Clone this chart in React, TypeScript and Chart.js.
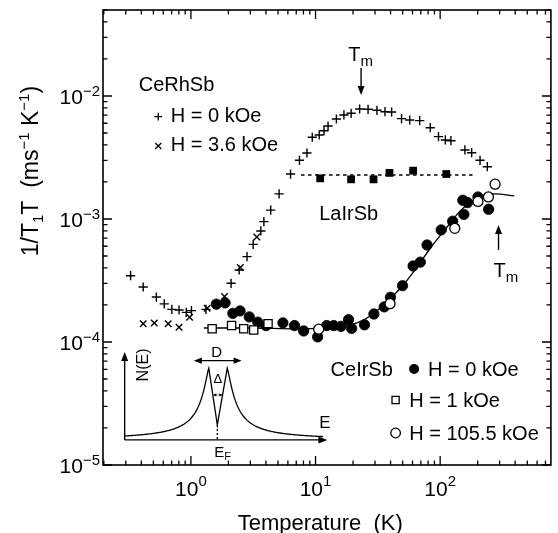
import React, { useEffect, useRef } from 'react';
import { Chart, registerables } from 'chart.js';

Chart.register(...registerables);

const FONT = '"Liberation Sans", Arial, Helvetica, sans-serif';

// ---- axes ----
const X_RANGE = [0.197, 774];
const Y_RANGE = [1e-5, 0.05];
const X_LABEL_EXPONENTS = [0, 1, 2];
const Y_LABEL_EXPONENTS = [-5, -4, -3, -2];
const X_TITLE = 'Temperature  (K)';

// ---- CeRhSb, H = 0 kOe (+) ----
const rhSb0T = [0.328, 0.414, 0.528, 0.611, 0.703, 0.803, 0.918, 1.01, 1.32, 2.10, 2.44, 2.82, 3.16, 3.64, 3.85, 4.37, 5.1, 6.30, 7.43, 8.53, 9.42, 10.7, 11.7, 12.6, 14.7, 16.9, 19.3, 22.6, 26.4, 31.1, 36.1, 40.8, 49.0, 57.0, 68.5, 83.3, 97.0, 110, 122, 158, 179, 209, 239];
const rhSb0V = [3.46e-4, 2.80e-4, 2.32e-4, 2.04e-4, 1.84e-4, 1.82e-4, 1.74e-4, 1.80e-4, 1.84e-4, 3.00e-4, 3.85e-4, 4.94e-4, 6.22e-4, 7.99e-4, 9.51e-4, 1.18e-3, 1.6e-3, 2.32e-3, 3.0e-3, 3.44e-3, 4.62e-3, 4.82e-3, 5.22e-3, 5.70e-3, 6.50e-3, 7.01e-3, 7.23e-3, 7.84e-3, 7.79e-3, 7.65e-3, 7.45e-3, 7.41e-3, 6.54e-3, 6.38e-3, 6.30e-3, 5.52e-3, 4.67e-3, 4.39e-3, 4.33e-3, 3.64e-3, 3.46e-3, 3.0e-3, 2.66e-3];

// ---- CeRhSb, H = 3.6 kOe (x) ----
const rhSb36T = [0.414, 0.508, 0.657, 0.803, 0.976, 1.35, 1.86, 2.49, 3.38];
const rhSb36V = [1.41e-4, 1.43e-4, 1.41e-4, 1.32e-4, 1.59e-4, 1.88e-4, 2.34e-4, 4.03e-4, 7.14e-4];

// ---- LaIrSb (filled squares) + dotted level ----
const laIrSbT = [10.9, 19.3, 29.2, 39.2, 60.7, 112];
const laIrSbV = [2.14e-3, 2.10e-3, 2.10e-3, 2.37e-3, 2.47e-3, 2.32e-3];
const laIrSbLineT = [7.65, 182];
const laIrSbLineV = [2.28e-3, 2.28e-3];

// ---- CeIrSb, H = 0 kOe (filled circles) ----
const irSb0T = [1.60, 1.88, 2.17, 2.48, 2.94, 3.44, 4.01, 5.47, 6.78, 8.03, 10.4, 12.3, 14.0, 16.0, 18.4, 19.5, 24.7, 29.4, 35.6, 39.9, 49.9, 60.7, 69.3, 78.5, 102, 126, 155, 152, 166, 201, 245];
const irSb0V = [2.03e-4, 2.08e-4, 1.71e-4, 1.79e-4, 1.60e-4, 1.45e-4, 1.36e-4, 1.43e-4, 1.36e-4, 1.23e-4, 1.10e-4, 1.36e-4, 1.36e-4, 1.34e-4, 1.52e-4, 1.29e-4, 1.38e-4, 1.69e-4, 1.93e-4, 2.31e-4, 2.87e-4, 4.15e-4, 4.46e-4, 6.15e-4, 8.15e-4, 9.59e-4, 1.09e-3, 1.42e-3, 1.36e-3, 1.51e-3, 1.20e-3];

// ---- CeIrSb, H = 1 kOe (open squares) ----
const irSb1T = [1.48, 2.12, 2.65, 3.19, 4.16];
const irSb1V = [1.28e-4, 1.36e-4, 1.28e-4, 1.25e-4, 1.41e-4];

// ---- CeIrSb, H = 105.5 kOe (open circles) ----
const irSb105T = [10.6, 39.6, 131, 201, 244, 276];
const irSb105V = [1.27e-4, 2.05e-4, 8.40e-4, 1.39e-3, 1.51e-3, 1.92e-3];

// ---- CeIrSb guide curve ----
const fitT = [1.27, 2.89, 7.19, 14.9, 21.5, 28.3, 37.3, 49.0, 64.5, 84.8, 112, 147, 193, 278, 394];
const fitV = [1.30e-4, 1.30e-4, 1.28e-4, 1.32e-4, 1.43e-4, 1.66e-4, 2.12e-4, 2.80e-4, 4.0e-4, 5.92e-4, 8.45e-4, 1.18e-3, 1.45e-3, 1.60e-3, 1.54e-3];

// ---- annotations anchored in data coordinates ----
type Part = [string, number, number];
const TEXT_LABELS: { parts: Part[]; T: number; v: number }[] = [
  { parts: [['CeRhSb', 20, 0]], T: 0.381, v: 1.10e-2 },
  { parts: [['H = 0 kOe', 20, 0]], T: 0.690, v: 6.18e-3 },
  { parts: [['H = 3.6 kOe', 20, 0]], T: 0.690, v: 3.59e-3 },
  { parts: [['T', 20, 0], ['m', 15, 5]], T: 18.3, v: 1.93e-2 },
  { parts: [['LaIrSb', 20, 0]], T: 10.7, v: 9.8e-4 },
  { parts: [['T', 20, 0], ['m', 15, 5]], T: 268, v: 3.40e-4 },
  { parts: [['CeIrSb', 20, 0]], T: 13.2, v: 5.29e-5 },
  { parts: [['H = 0 kOe', 20, 0]], T: 79.9, v: 5.29e-5 },
  { parts: [['H = 1 kOe', 20, 0]], T: 56.5, v: 2.94e-5 },
  { parts: [['H = 105.5 kOe', 20, 0]], T: 56.5, v: 1.60e-5 },
];
const LEGEND_MARKERS = [
  { style: 'plus', T: 0.547, v: 6.79e-3 },
  { style: 'cross', T: 0.547, v: 3.92e-3 },
  { style: 'disc', T: 61.8, v: 6.03e-5 },
  { style: 'square', T: 43.9, v: 3.38e-5 },
  { style: 'ring', T: 43.9, v: 1.82e-5 },
];
const ARROWS = [
  { T: 23.2, vFrom: 1.69e-2, vTo: 1.02e-2 },
  { T: 294, vFrom: 5.60e-4, vTo: 8.93e-4 },
];
// inset box (schematic DOS) anchored in data coordinates
const INSET = { T0: 0.294, T1: 12.45, v0: 1.6e-5, v1: 8.3e-5 };
const INSET_SHAPE = { left: 0.415, right: 0.506, dip: 0.457, peakH: 0.815, dipH: 0.17, width: 0.0463, power: 1.3 };

const pts = (xs: number[], ys: number[]) => xs.map((x, i) => ({ x, y: ys[i] }));

function richWidth(ctx: CanvasRenderingContext2D, parts: Part[]) {
  let w = 0;
  for (const [t, s] of parts) {
    ctx.font = `${s}px ${FONT}`;
    w += ctx.measureText(t).width;
  }
  return w;
}
function drawRich(ctx: CanvasRenderingContext2D, parts: Part[], x: number, y: number, align: 'left' | 'center' | 'right') {
  const w = richWidth(ctx, parts);
  let cx = align === 'left' ? x : align === 'center' ? x - w / 2 : x - w;
  ctx.textAlign = 'left';
  ctx.textBaseline = 'alphabetic';
  for (const [t, s, dy] of parts) {
    ctx.font = `${s}px ${FONT}`;
    ctx.fillText(t, cx, y + dy);
    cx += ctx.measureText(t).width;
  }
}
function arrowHead(ctx: CanvasRenderingContext2D, x1: number, y1: number, x2: number, y2: number, len: number, half: number) {
  const a = Math.atan2(y2 - y1, x2 - x1);
  const bx = x2 - len * Math.cos(a), by = y2 - len * Math.sin(a);
  ctx.beginPath();
  ctx.moveTo(x2, y2);
  ctx.lineTo(bx + half * Math.sin(a), by - half * Math.cos(a));
  ctx.lineTo(bx - half * Math.sin(a), by + half * Math.cos(a));
  ctx.closePath();
  ctx.fill();
}
function arrow(ctx: CanvasRenderingContext2D, x1: number, y1: number, x2: number, y2: number, len: number, half: number) {
  const a = Math.atan2(y2 - y1, x2 - x1);
  ctx.beginPath();
  ctx.moveTo(x1, y1);
  ctx.lineTo(x2 - len * 0.8 * Math.cos(a), y2 - len * 0.8 * Math.sin(a));
  ctx.stroke();
  arrowHead(ctx, x1, y1, x2, y2, len, half);
}

const decorPlugin = {
  id: 'decor',
  afterDraw(chart: any) {
    const ctx: CanvasRenderingContext2D = chart.ctx;
    const xs = chart.scales.x, ys = chart.scales.y;
    const { left, right, top, bottom } = chart.chartArea;
    const X = (t: number) => xs.getPixelForValue(t);
    const Y = (v: number) => ys.getPixelForValue(v);
    ctx.save();
    ctx.fillStyle = '#000';
    ctx.strokeStyle = '#000';

    // frame
    ctx.lineWidth = 1.6;
    ctx.strokeRect(left, top, right - left, bottom - top);

    // inward ticks on all four sides
    ctx.lineWidth = 1.3;
    const ticks = (min: number, max: number) => {
      const out: { v: number; major: boolean }[] = [];
      for (let e = Math.floor(Math.log10(min)); e <= Math.ceil(Math.log10(max)); e++) {
        for (let m = 1; m <= 9; m++) {
          const v = m * Math.pow(10, e);
          if (v >= min * 0.999 && v <= max * 1.001) out.push({ v, major: m === 1 });
        }
      }
      return out;
    };
    ctx.beginPath();
    for (const t of ticks(X_RANGE[0], X_RANGE[1])) {
      const px = X(t.v);
      const L = t.major ? 9 : 4.5;
      ctx.moveTo(px, bottom); ctx.lineTo(px, bottom - L);
      ctx.moveTo(px, top); ctx.lineTo(px, top + L);
    }
    for (const t of ticks(Y_RANGE[0], Y_RANGE[1])) {
      const py = Y(t.v);
      const L = t.major ? 9 : 4.5;
      ctx.moveTo(left, py); ctx.lineTo(left + L, py);
      ctx.moveTo(right, py); ctx.lineTo(right - L, py);
    }
    ctx.stroke();

    // tick labels
    for (const e of X_LABEL_EXPONENTS) {
      drawRich(ctx, [['10', 21, 0], [String(e), 15, -10]], X(Math.pow(10, e)), bottom + 31, 'center');
    }
    for (const e of Y_LABEL_EXPONENTS) {
      drawRich(ctx, [['10', 21, 0], [(e < 0 ? '\u2212' : '') + Math.abs(e), 15, -8]], left - 3, Y(Math.pow(10, e)) + 8, 'right');
    }

    // axis titles
    drawRich(ctx, [[X_TITLE, 22, 0]], left + 0.485 * (right - left), bottom + 65, 'center');
    ctx.save();
    ctx.translate(38, top + 0.354 * (bottom - top));
    ctx.rotate(-Math.PI / 2);
    drawRich(ctx, [['1/T', 23, 0], ['1', 15, 5], ['T  (ms', 23, 0], ['\u22121', 15, -9], [' K', 23, 0], ['\u22121', 15, -9], [')', 23, 0]], 0, 0, 'center');
    ctx.restore();

    // text annotations
    for (const l of TEXT_LABELS) drawRich(ctx, l.parts, X(l.T), Y(l.v), 'left');

    // legend markers
    for (const m of LEGEND_MARKERS) {
      const px = X(m.T), py = Y(m.v);
      ctx.lineWidth = 1.3;
      ctx.beginPath();
      if (m.style === 'plus') {
        ctx.moveTo(px - 3.8, py); ctx.lineTo(px + 3.8, py);
        ctx.moveTo(px, py - 3.8); ctx.lineTo(px, py + 3.8);
        ctx.stroke();
      } else if (m.style === 'cross') {
        ctx.moveTo(px - 3, py - 3); ctx.lineTo(px + 3, py + 3);
        ctx.moveTo(px + 3, py - 3); ctx.lineTo(px - 3, py + 3);
        ctx.stroke();
      } else if (m.style === 'disc') {
        ctx.arc(px, py, 5, 0, Math.PI * 2);
        ctx.fill();
      } else if (m.style === 'square') {
        ctx.rect(px - 3.6, py - 3.6, 7.2, 7.2);
        ctx.stroke();
      } else {
        ctx.arc(px, py, 4.8, 0, Math.PI * 2);
        ctx.stroke();
      }
    }

    // T_m arrows
    ctx.lineWidth = 1.4;
    for (const a of ARROWS) arrow(ctx, X(a.T), Y(a.vFrom), X(a.T), Y(a.vTo), 9, 3.5);

    // inset: schematic N(E)
    const X0 = X(INSET.T0), X1 = X(INSET.T1), Y0 = Y(INSET.v0), Y1 = Y(INSET.v1);
    const W = X1 - X0, H = Y0 - Y1;
    const P = (u: number, h: number): [number, number] => [X0 + u * W, Y0 - h * H];
    const s = INSET_SHAPE;
    const prof = (d: number) => s.peakH / (1 + Math.pow(Math.abs(d) / s.width, s.power));
    ctx.lineWidth = 1.4;
    // axes
    arrow(ctx, ...P(0, 0), ...P(0, 1), 9, 3.5);
    arrow(ctx, ...P(0, 0), ...P(1, 0), 9, 3.5);
    // curve
    ctx.lineWidth = 1.3;
    ctx.beginPath();
    ctx.moveTo(...P(0, prof(s.left)));
    for (let u = 0; u <= s.left; u += 0.004) ctx.lineTo(...P(u, prof(s.left - u)));
    ctx.lineTo(...P(s.left, s.peakH));
    ctx.lineTo(...P(s.dip, s.dipH));
    ctx.lineTo(...P(s.right, s.peakH));
    for (let u = s.right; u <= 0.98; u += 0.004) ctx.lineTo(...P(u, prof(u - s.right)));
    ctx.stroke();
    // dotted drop to E_F
    ctx.setLineDash([2, 2]);
    ctx.beginPath();
    ctx.moveTo(...P(s.dip, s.dipH));
    ctx.lineTo(...P(s.dip, 0));
    ctx.stroke();
    // gap arrow (dotted)
    ctx.setLineDash([1.2, 1.2]);
    ctx.lineWidth = 1;
    ctx.beginPath();
    ctx.moveTo(...P(0.44, 0.511));
    ctx.lineTo(...P(0.478, 0.511));
    ctx.stroke();
    ctx.setLineDash([]);
    arrowHead(ctx, ...P(0.46, 0.511), ...P(0.437, 0.511), 3, 1.6);
    arrowHead(ctx, ...P(0.46, 0.511), ...P(0.482, 0.511), 3, 1.6);
    // D double arrow
    ctx.lineWidth = 1.3;
    const [da, db] = [P(0.341, 0.901), P(0.577, 0.901)];
    ctx.beginPath();
    ctx.moveTo(da[0] + 6, da[1]);
    ctx.lineTo(db[0] - 6, db[1]);
    ctx.stroke();
    arrowHead(ctx, db[0], db[1], da[0], da[1], 8, 3.2);
    arrowHead(ctx, da[0], da[1], db[0], db[1], 8, 3.2);
    // inset texts
    const [dx, dy] = P(0.454, 0.943);
    drawRich(ctx, [['D', 15, 0]], dx, dy, 'center');
    const [gx, gy] = P(0.459, 0.648);
    drawRich(ctx, [['\u0394', 13, 0]], gx, gy, 'center');
    const [ex, ey] = P(0.96, 0.136);
    drawRich(ctx, [['E', 17, 0]], ex, ey, 'left');
    const [fx, fy] = P(0.442, -0.19);
    drawRich(ctx, [['E', 15, 0], ['F', 11, 3]], fx, fy, 'left');
    const [nx, ny] = P(0.117, 0.852);
    ctx.save();
    ctx.translate(nx, ny);
    ctx.rotate(-Math.PI / 2);
    drawRich(ctx, [['N(E)', 16, 0]], 0, 0, 'center');
    ctx.restore();

    ctx.restore();
  },
};

export default function App() {
  const ref = useRef<HTMLCanvasElement>(null);
  useEffect(() => {
    const common = { showLine: false, borderColor: '#000' };
    const chart = new Chart(ref.current as HTMLCanvasElement, {
      type: 'scatter',
      data: {
        datasets: [
          { label: 'fit', data: pts(fitT, fitV), showLine: true, borderColor: '#000', borderWidth: 1.3, pointRadius: 0, cubicInterpolationMode: 'monotone', order: 10 } as any,
          { label: 'LaIrSb level', data: pts(laIrSbLineT, laIrSbLineV), showLine: true, borderColor: '#000', borderWidth: 1.4, borderDash: [3.5, 3.5], pointRadius: 0, order: 9 } as any,
          { ...common, label: 'CeRhSb H=0', data: pts(rhSb0T, rhSb0V), pointStyle: 'cross', pointRadius: 4.6, borderWidth: 1.4, order: 8 } as any,
          { ...common, label: 'CeRhSb H=3.6', data: pts(rhSb36T, rhSb36V), pointStyle: 'crossRot', pointRadius: 4.6, borderWidth: 1.4, order: 7 } as any,
          { ...common, label: 'LaIrSb', data: pts(laIrSbT, laIrSbV), pointStyle: 'rect', pointRadius: 5.5, backgroundColor: '#000', borderWidth: 0, order: 6 } as any,
          { ...common, label: 'CeIrSb H=0', data: pts(irSb0T, irSb0V), pointStyle: 'circle', pointRadius: 5.2, backgroundColor: '#000', borderWidth: 0.8, order: 5 } as any,
          { ...common, label: 'CeIrSb H=1', data: pts(irSb1T, irSb1V), pointStyle: 'rect', pointRadius: 5.8, backgroundColor: '#fff', borderWidth: 1.3, order: 4 } as any,
          { ...common, label: 'CeIrSb H=105.5', data: pts(irSb105T, irSb105V), pointStyle: 'circle', pointRadius: 5, backgroundColor: '#fff', borderWidth: 1.3, order: 3 } as any,
        ],
      },
      options: {
        responsive: false,
        animation: false,
        events: [],
        layout: { padding: { left: 0, top: 10, right: 2, bottom: 0 } },
        plugins: { legend: { display: false }, tooltip: { enabled: false } },
        scales: {
          x: {
            type: 'logarithmic', min: X_RANGE[0], max: X_RANGE[1],
            grid: { display: false, drawTicks: false }, border: { display: false },
            ticks: { display: false }, title: { display: false },
            afterFit: (sc: any) => { sc.height = 68; },
          },
          y: {
            type: 'logarithmic', min: Y_RANGE[0], max: Y_RANGE[1],
            grid: { display: false, drawTicks: false }, border: { display: false },
            ticks: { display: false }, title: { display: false },
            afterFit: (sc: any) => { sc.width = 103; },
          },
        },
      } as any,
      plugins: [decorPlugin],
    });
    return () => chart.destroy();
  }, []);
  return (
    <div style={{ position: 'fixed', left: 0, top: 0, width: 558, height: 533, background: '#fff' }}>
      <canvas ref={ref} width={558} height={533} style={{ display: 'block', width: 558, height: 533 }} />
    </div>
  );
}
